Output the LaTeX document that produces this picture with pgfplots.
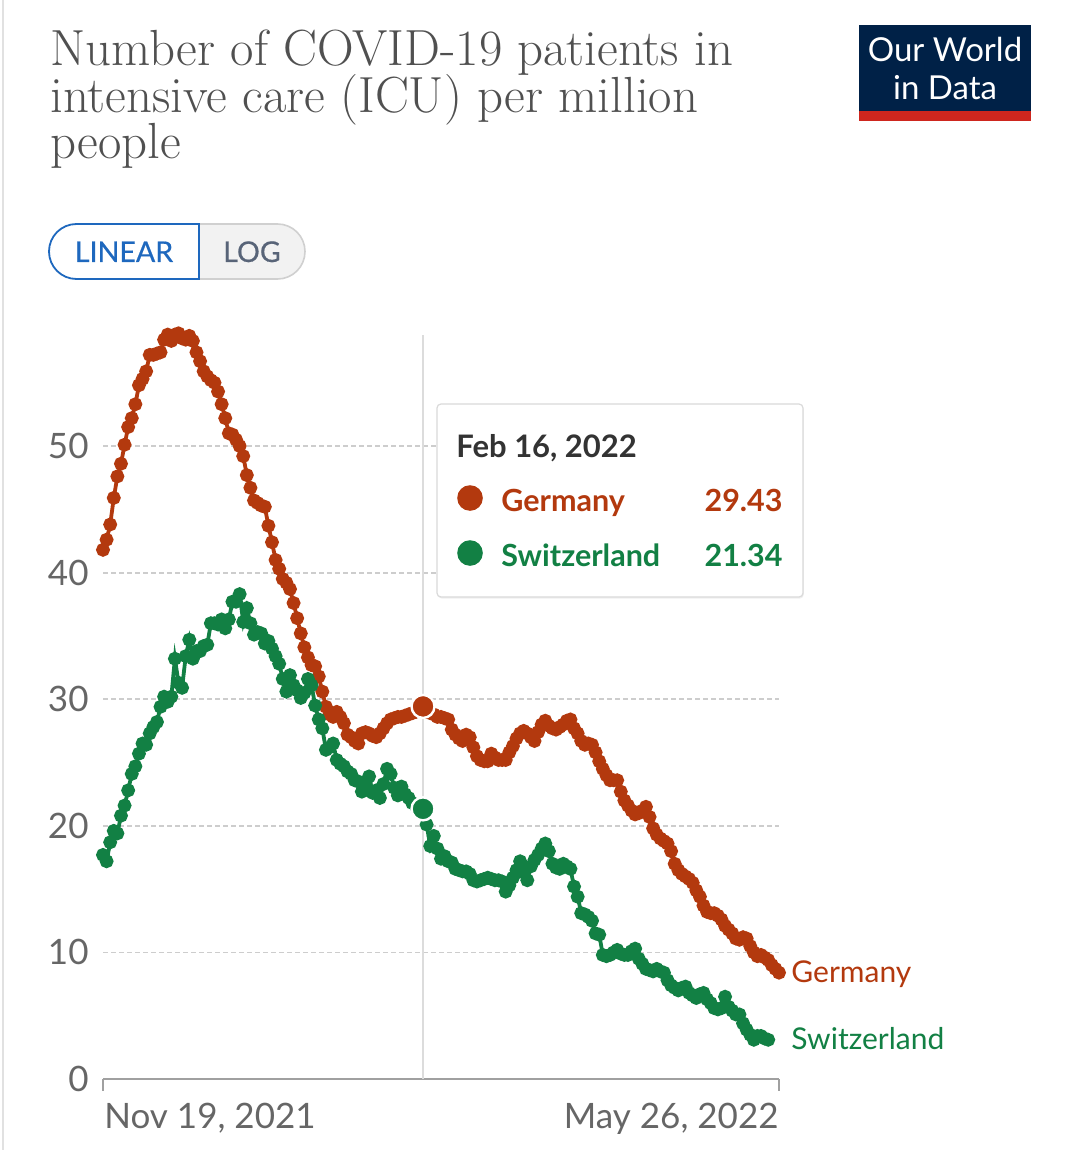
\documentclass[border=0pt]{standalone}
\usepackage{fontspec}
\usepackage{pgfplots}
\pgfplotsset{compat=1.18}
\usetikzlibrary{shadows}
\newfontfamily\lato{Lato}
\definecolor{deu}{RGB}{179,57,14}
\definecolor{che}{RGB}{18,128,68}
\definecolor{gridc}{RGB}{205,205,205}
\definecolor{axisc}{RGB}{160,160,160}
\definecolor{tickc}{RGB}{102,102,102}
\definecolor{titlec}{RGB}{80,80,80}
\definecolor{navy}{RGB}{0,33,71}
\definecolor{owidred}{RGB}{206,38,30}
\definecolor{linblue}{RGB}{30,104,190}
\definecolor{loggray}{RGB}{88,100,120}
\definecolor{vline}{RGB}{220,220,220}
\definecolor{boxc}{RGB}{218,218,218}
\definecolor{datec}{RGB}{51,51,51}
\definecolor{cardc}{RGB}{225,225,225}
\definecolor{logfill}{RGB}{242,242,242}
\definecolor{logdraw}{RGB}{208,208,208}
\begin{document}
\begin{tikzpicture}
\fill[white] (0,0) rectangle (540pt,-575pt);
\begin{axis}[
  at={(51.5pt,-539.5pt)}, anchor=south west,
  scale only axis, width=338pt, height=379.8pt,
  xmin=0, xmax=188, ymin=0, ymax=60,
  axis x line*=bottom, axis y line*=left,
  x axis line style={draw=axisc, line width=0.9pt},
  y axis line style={draw=none},
  xtick={0,188}, xticklabels={}, xtick style={draw=none},
  ytick={0,10,20,30,40,50}, yticklabels={0,10,20,30,40,50},
  ytick style={draw=none},
  yticklabel style={font=\lato\fontsize{17.5}{20}\selectfont, text=tickc, anchor=east, inner sep=0pt, xshift=-7pt},
  ymajorgrids, grid style={gridc, dash pattern=on 2.5pt off 1.5pt, line width=0.9pt},
  clip=false,
]
\draw[vline, line width=1pt] (axis cs:89,0) -- (axis cs:89,58.8);
\addplot[deu, line width=1.9pt, mark=*, mark size=2.5pt] coordinates {
(0,41.8)(1,42.6)(2,43.8)(3,45.9)(4,47.6)(5,48.6)(6,50.1)(7,51.5)(8,52.2)(9,53.3)
(10,54.8)(11,55.3)(12,55.9)(13,57.2)(14,57.2)(15,57.3)(16,57.4)(17,58.4)(18,58.8)(19,58.3)
(20,58.8)(21,58.9)(22,58.5)(23,58.4)(24,58.7)(25,58.3)(26,57.4)(27,56.7)(28,55.9)(29,55.5)
(30,55.2)(31,55.0)(32,54.3)(33,53.3)(34,52.2)(35,51.0)(36,50.9)(37,50.5)(38,50.0)(39,49.2)
(40,47.7)(41,46.7)(42,45.7)(43,45.5)(44,45.3)(45,45.2)(46,43.7)(47,42.4)(48,41.0)(49,40.3)
(50,39.5)(51,39.2)(52,38.7)(53,37.6)(54,36.4)(55,35.2)(56,34.1)(57,33.3)(58,32.7)(59,32.6)
(60,31.8)(61,30.6)(62,29.4)(63,28.8)(64,28.6)(65,29.0)(66,28.6)(67,28.1)(68,27.2)(69,27.0)
(70,26.7)(71,26.5)(72,27.3)(73,27.4)(74,27.3)(75,27.1)(76,27.0)(77,27.3)(78,27.7)(79,28.1)
(80,28.4)(81,28.5)(82,28.6)(83,28.6)(84,28.7)(85,28.8)(86,28.9)(87,29.0)(88,29.2)(89,29.43)
(90,29.0)(91,28.9)(92,28.8)(93,28.6)(94,28.6)(95,28.5)(96,28.4)(97,27.6)(98,27.2)(99,26.9)
(100,26.7)(101,27.2)(102,27.0)(103,26.2)(104,25.5)(105,25.2)(106,25.1)(107,25.1)(108,25.7)(109,25.4)
(110,25.2)(111,25.2)(112,25.2)(113,25.8)(114,26.3)(115,26.9)(116,27.3)(117,27.5)(118,27.3)(119,27.0)
(120,26.7)(121,27.4)(122,28.0)(123,28.3)(124,27.9)(125,27.7)(126,27.6)(127,27.8)(128,28.0)(129,28.3)
(130,28.4)(131,27.7)(132,27.3)(133,26.7)(134,26.4)(135,26.5)(136,26.4)(137,25.8)(138,25.1)(139,24.5)
(140,24.0)(141,23.6)(142,23.6)(143,23.6)(144,22.7)(145,22.0)(146,21.6)(147,21.2)(148,20.9)(149,21.0)
(150,21.2)(151,21.5)(152,20.7)(153,19.8)(154,19.3)(155,19.0)(156,18.8)(157,18.6)(158,18.0)(159,17.0)
(160,16.5)(161,16.2)(162,16.0)(163,15.8)(164,15.5)(165,14.9)(166,14.4)(167,13.7)(168,13.2)(169,13.1)
(170,13.1)(171,12.9)(172,12.6)(173,12.1)(174,11.8)(175,11.5)(176,11.1)(177,11.0)(178,11.2)(179,11.1)
(180,10.5)(181,10.0)(182,9.7)(183,9.8)(184,9.6)(185,9.4)(186,9.0)(187,8.7)(188,8.4)};
\addplot[che, line width=1.9pt, mark=*, mark size=2.5pt] coordinates {
(0,17.7)(1,17.2)(2,18.7)(3,19.6)(4,19.4)(5,20.8)(6,21.6)(7,22.8)(8,24.1)(9,24.7)
(10,25.7)(11,26.5)(12,26.4)(13,27.3)(14,27.8)(15,28.2)(16,29.4)(17,30.2)(18,29.8)(19,30.2)
(20,33.2)(21,31.3)(22,30.9)(23,33.4)(24,34.7)(25,33.2)(26,33.8)(27,33.8)(28,34.2)(29,34.3)
(30,36.0)(31,36.0)(32,35.9)(33,36.3)(34,35.6)(35,36.3)(36,37.7)(37,37.7)(38,38.3)(39,36.1)
(40,37.2)(41,36.0)(42,35.1)(43,35.3)(44,35.2)(45,34.4)(46,34.6)(47,34.0)(48,33.4)(49,32.8)
(50,31.6)(51,30.6)(52,31.9)(53,31.1)(54,30.7)(55,30.1)(56,30.5)(57,31.6)(58,31.1)(59,29.5)
(60,28.4)(61,27.7)(62,26.0)(63,26.2)(64,26.5)(65,25.2)(66,24.9)(67,24.7)(68,24.3)(69,24.1)
(70,23.6)(71,23.5)(72,22.7)(73,23.4)(74,23.9)(75,22.6)(76,22.8)(77,22.2)(78,23.3)(79,24.5)
(80,24.1)(81,23.0)(82,22.4)(83,23.1)(84,22.5)(85,22.2)(86,21.8)(87,21.6)(88,21.5)(89,21.34)
(90,20.1)(91,18.4)(92,19.2)(93,18.2)(94,17.4)(95,17.6)(96,17.2)(97,17.1)(98,16.6)(99,16.5)
(100,16.4)(101,16.4)(102,16.2)(103,15.7)(104,15.6)(105,15.7)(106,15.8)(107,15.9)(108,15.8)(109,15.7)
(110,15.7)(111,15.6)(112,14.8)(113,15.3)(114,15.9)(115,16.5)(116,17.2)(117,16.3)(118,15.7)(119,16.8)
(120,17.3)(121,17.7)(122,18.2)(123,18.6)(124,18.0)(125,17.0)(126,16.7)(127,16.6)(128,17.0)(129,16.8)
(130,16.6)(131,15.2)(132,14.4)(133,13.1)(134,13.0)(135,12.8)(136,12.5)(137,11.5)(138,11.4)(139,9.8)
(140,9.7)(141,9.8)(142,10.0)(143,10.2)(144,9.9)(145,9.8)(146,9.8)(147,10.1)(148,10.3)(149,9.5)
(150,9.1)(151,8.7)(152,8.6)(153,8.5)(154,8.7)(155,8.5)(156,8.4)(157,7.8)(158,7.4)(159,7.2)
(160,7.0)(161,7.2)(162,7.3)(163,6.8)(164,6.6)(165,6.4)(166,6.7)(167,6.8)(168,6.3)(169,6.0)
(170,5.6)(171,5.5)(172,5.6)(173,6.5)(174,5.7)(175,5.4)(176,5.1)(177,5.1)(178,4.4)(179,3.9)
(180,3.5)(181,3.1)(182,3.4)(183,3.4)(184,3.2)(185,3.1)};
\addplot[only marks, mark=*, mark size=5.75pt, mark options={fill=deu, draw=white, line width=1.2pt}] coordinates {(89,29.43)};
\addplot[only marks, mark=*, mark size=5.75pt, mark options={fill=che, draw=white, line width=1.2pt}] coordinates {(89,21.34)};
\end{axis}
\begin{scope}[x=0.5pt,y=-0.5pt]
% card border
\draw[cardc, line width=0.8pt] (3,0) -- (3,1150);
% title
\node[anchor=base west, inner sep=0pt, text=titlec, font=\fontsize{25.4}{26}\selectfont\addfontfeatures{FakeBold=0.6}] at (50,66) {Number of COVID-19 patients in};
\node[anchor=base west, inner sep=0pt, text=titlec, font=\fontsize{25.4}{26}\selectfont\addfontfeatures{FakeBold=0.6}] at (50,113) {intensive care (ICU) per million};
\node[anchor=base west, inner sep=0pt, text=titlec, font=\fontsize{25.4}{26}\selectfont\addfontfeatures{FakeBold=0.6}] at (50,159) {people};
% logo
\fill[navy] (859,25) rectangle (1031,111);
\fill[owidred] (859,111) rectangle (1031,121);
\node[anchor=base, inner sep=0pt, text=white, font=\lato\fontsize{16.5}{18}\selectfont] at (945,62) {Our World};
\node[anchor=base, inner sep=0pt, text=white, font=\lato\fontsize{16.5}{18}\selectfont] at (945,100) {in Data};
% linear/log toggle
\filldraw[fill=logfill, draw=logdraw, line width=0.8pt]
  (199,224) -- (277.5,224) arc[start angle=90, end angle=-90, radius=13.75pt] -- (199,279) -- cycle;
\filldraw[fill=white, draw=linblue, line width=0.9pt]
  (199,224) -- (76.5,224) arc[start angle=90, end angle=270, radius=13.75pt] -- (199,279) -- cycle;
\node[anchor=base, inner sep=0pt, text=linblue, font=\lato\fontsize{14.3}{16}\selectfont\addfontfeatures{FakeBold=0.5}] at (124,262) {LINEAR};
\node[anchor=base, inner sep=0pt, text=loggray, font=\lato\fontsize{14.3}{16}\selectfont\addfontfeatures{FakeBold=0.5}] at (252,262) {LOG};
% x tick marks and labels
\draw[axisc, line width=0.9pt] (103,1079) -- (103,1091);
\draw[axisc, line width=0.9pt] (779,1079) -- (779,1091);
\node[anchor=base west, inner sep=0pt, text=tickc, font=\lato\fontsize{17.5}{20}\selectfont] at (104,1128) {Nov 19, 2021};
\node[anchor=base east, inner sep=0pt, text=tickc, font=\lato\fontsize{17.5}{20}\selectfont] at (779,1128) {May 26, 2022};
% end labels
\node[anchor=base west, inner sep=0pt, text=deu, font=\lato\fontsize{15}{17}\selectfont] at (791,982) {Germany};
\node[anchor=base west, inner sep=0pt, text=che, font=\lato\fontsize{15}{17}\selectfont] at (791,1049) {Switzerland};
% tooltip
\filldraw[fill=white, draw=boxc, line width=0.6pt, rounded corners=2pt, drop shadow={opacity=0.12, shadow xshift=0.4pt, shadow yshift=-0.8pt}] (437,404) rectangle (803,597);
\node[anchor=base west, inner sep=0pt, text=datec, font=\lato\bfseries\fontsize{15.5}{18}\selectfont] at (456,457) {Feb 16, 2022};
\fill[deu] (470,498) circle[radius=6.4pt];
\fill[che] (470,553) circle[radius=6.4pt];
\node[anchor=base west, inner sep=0pt, text=deu, font=\lato\bfseries\fontsize{15.25}{18}\selectfont] at (501,511) {Germany};
\node[anchor=base east, inner sep=0pt, text=deu, font=\lato\bfseries\fontsize{15.25}{18}\selectfont] at (783,511) {29.43};
\node[anchor=base west, inner sep=0pt, text=che, font=\lato\bfseries\fontsize{15.25}{18}\selectfont] at (501,566) {Switzerland};
\node[anchor=base east, inner sep=0pt, text=che, font=\lato\bfseries\fontsize{15.25}{18}\selectfont] at (783,566) {21.34};
\end{scope}
\pgfresetboundingbox
\path[use as bounding box] (0,0) rectangle (540pt,-575pt);
\end{tikzpicture}
\end{document}
